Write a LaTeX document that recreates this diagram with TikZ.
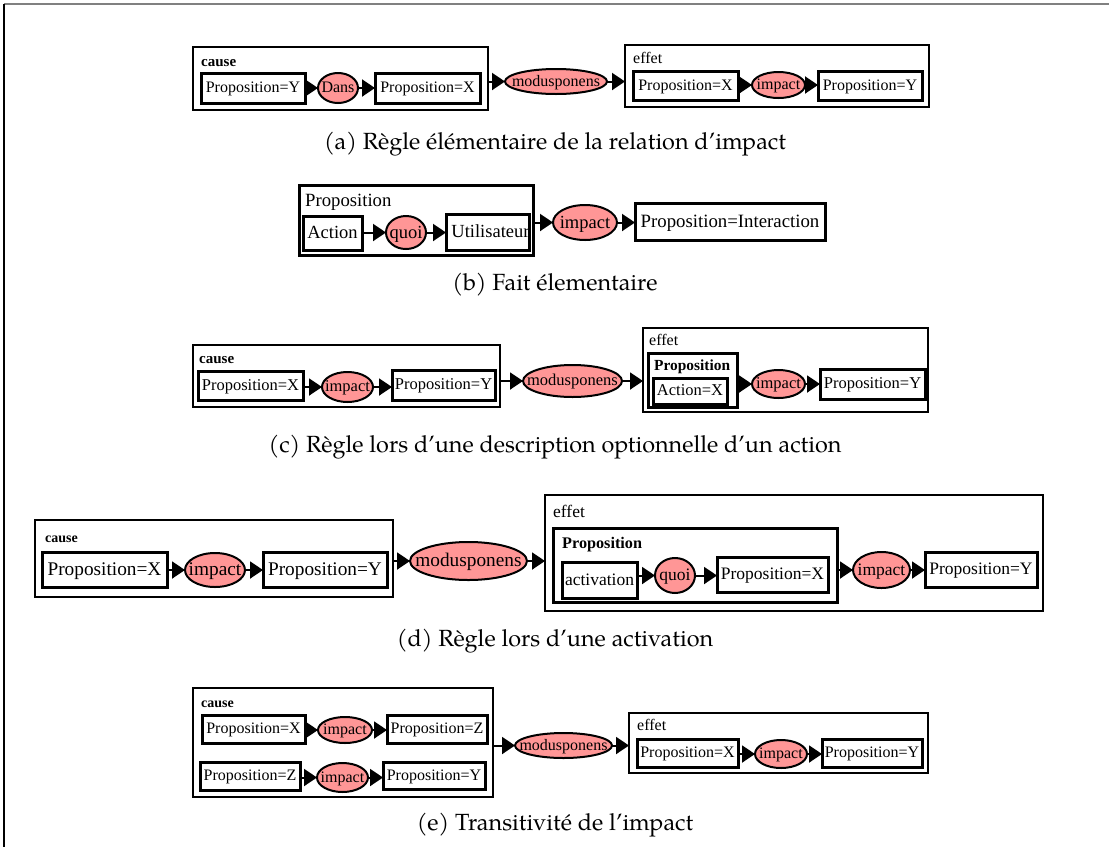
\documentclass[tikz,border=0pt]{standalone}
\usepackage{fontspec}
\setmainfont{Liberation Serif}
\newfontfamily\capfont{TeX Gyre Pagella}
\usetikzlibrary{shapes.geometric,arrows.meta}
\definecolor{relfill}{RGB}{255,150,150}
\newcommand\zt[1]{\raisebox{-.3em}[0pt][0pt]{\makebox[0pt]{#1}}}
\newcommand\fs[1]{\fontsize{#1}{#1}\selectfont}
% \bx{style}{name}{x1}{y1}{x2}{y2}{text}
\newcommand\bx[7]{\node[#1,minimum width={#5pt-#3pt},minimum height={#6pt-#4pt}] (#2) at ({(#3+#5)/2},{(#4+#6)/2}) {\zt{#7}};}
\tikzset{
  prop/.style={draw, line width=3pt, fill=white, inner sep=0pt, outer sep=0pt},
  rel/.style={ellipse, draw, line width=2pt, fill=relfill, inner sep=0pt, outer sep=0pt},
  grp/.style={draw, line width=2pt, inner sep=0pt, outer sep=0pt},
  igrp/.style={draw, line width=3pt, inner sep=0pt, outer sep=0pt},
  lab/.style={anchor=base west, inner sep=0pt},
  arr/.style={line width=2pt, -{Triangle[length=13pt,width=17pt]}},
  captxt/.style={font=\capfont\fontsize{23.4}{26}\selectfont, anchor=base, inner sep=0pt}
}
\begin{document}
\begin{tikzpicture}[x=1pt,y=-1pt]
\useasboundingbox (0,0) rectangle (1109,847);
\draw[gray, line width=1.5pt] (4,4) -- (1109,4);
\draw[black, line width=1.5pt] (4,4) -- (4,847);

% ---------------- (a)
\begin{scope}[every node/.append style={font=\fs{16}}]
\bx{grp}{causeA}{193}{47}{488}{110}{}
\node[lab,font=\bfseries\fs{15}] (lcA) at (201,66) {cause};
\bx{prop}{a1}{201}{73}{305}{103}{Proposition=Y}
\bx{rel}{a2}{318}{73}{358}{103}{Dans}
\bx{prop}{a3}{375}{73}{480}{103}{Proposition=X}
\bx{rel}{a4}{505}{69}{607}{94}{modusponens}
\bx{grp}{effetA}{625}{45}{929}{107}{}
\node[lab,font=\fs{16}] (leA) at (633,63) {effet};
\bx{prop}{a5}{633}{71}{738}{100}{Proposition=X}
\bx{rel}{a6}{752}{72}{805}{98}{impact}
\bx{prop}{a7}{818}{71}{922}{100}{Proposition=Y}
\end{scope}
\draw[arr] (a1.east |- a2.west) -- (a2.west);
\draw[arr] (a2.east) -- (a3.west |- a2.east);
\draw[arr] (causeA.east |- a4.west) -- (a4.west);
\draw[arr] (a4.east) -- (effetA.west |- a4.east);
\draw[arr] (a5.east |- a6.west) -- (a6.west);
\draw[arr] (a6.east) -- (a7.west |- a6.east);
\node[captxt] (capA) at (555,149) {(a) Règle élémentaire de la relation d’impact};

% ---------------- (b)
\begin{scope}[every node/.append style={font=\fs{18.5}}]
\bx{igrp}{propB}{299}{185}{533}{255}{}
\node[lab,font=\fs{18.7}] (lpB) at (305,206) {Proposition};
\bx{prop}{b1}{303}{216}{362}{250}{Action}
\bx{rel}{b2}{386}{216}{426}{249}{quoi}
\bx{prop}{b3}{446}{214}{529}{250}{\hspace*{6pt}Utilisateur}
\bx{rel}{b4}{553}{205}{617}{240}{impact}
\bx{prop}{b5}{635}{203}{825}{240}{\fs{18.8}Proposition=Interaction}
\end{scope}
\draw[arr] (b1.east |- b2.west) -- (b2.west);
\draw[arr] (b2.east) -- (b3.west |- b2.east);
\draw[arr] (propB.east |- b4.west) -- (b4.west);
\draw[arr] (b4.east) -- (b5.west |- b4.east);
\node[captxt] (capB) at (555,290) {(b) Fait élementaire};

% ---------------- (c)
\begin{scope}[every node/.append style={font=\fs{16.5}}]
\bx{grp}{causeC}{193}{345}{500}{407}{}
\node[lab,font=\bfseries\fs{15}] (lcC) at (199,363) {cause};
\bx{prop}{c1}{198}{371}{303}{400}{Proposition=X}
\bx{rel}{c2}{322}{372}{373}{402}{impact}
\bx{prop}{c3}{392}{370}{495}{400}{Proposition=Y}
\bx{rel}{c4}{523}{365}{622}{397}{modusponens}
\bx{grp}{effetC}{643}{328}{928}{412}{}
\node[lab,font=\fs{16}] (leC) at (649,345) {effet};
\bx{igrp}{propC}{648}{353}{737}{407}{}
\node[lab,font=\bfseries\fs{15.4}] (lpC) at (654,370) {Proposition};
\bx{prop}{c5}{653}{378}{727}{404}{Action=X}
\bx{rel}{c6}{752}{370}{805}{398}{impact}
\bx{prop}{c7}{820}{369}{925}{399}{Proposition=Y}
\end{scope}
\draw[arr] (c1.east |- c2.west) -- (c2.west);
\draw[arr] (c2.east) -- (c3.west |- c2.east);
\draw[arr] (causeC.east |- c4.west) -- (c4.west);
\draw[arr] (c4.east) -- (effetC.west |- c4.east);
\draw[arr] (propC.east |- c6.west) -- (c6.west);
\draw[arr] (c6.east) -- (c7.west |- c6.east);
\node[captxt] (capC) at (555,452) {(c) Règle lors d’une description optionnelle d’un action};

% ---------------- (d)
\begin{scope}[every node/.append style={font=\fs{19.3}}]
\bx{grp}{causeD}{35}{520}{393}{597}{}
\node[lab,font=\bfseries\fs{14}] (lcD) at (45,542) {cause};
\bx{prop}{d1}{42}{552}{167}{587}{Proposition=X}
\bx{rel}{d2}{185}{553}{245}{587}{impact}
\bx{prop}{d3}{263}{552}{387}{587}{Proposition=Y}
\bx{rel}{d4}{410}{542}{527}{580}{modusponens}
\end{scope}
\begin{scope}[every node/.append style={font=\fs{17.5}}]
\bx{grp}{effetD}{545}{495}{1043}{611}{}
\node[lab,font=\fs{17.5}] (leD) at (553,517) {effet};
\bx{igrp}{propD}{553}{528}{837}{602}{}
\node[lab,font=\bfseries\fs{16.2}] (lpD) at (562,548) {Proposition};
\bx{prop}{d5}{562}{562}{637}{598}{activation}
\bx{rel}{d6}{655}{558}{695}{593}{quoi}
\bx{prop}{d7}{717}{557}{828}{592}{Proposition=X}
\bx{rel}{d8}{853}{552}{910}{588}{impact}
\bx{prop}{d9}{925}{552}{1037}{587}{Proposition=Y}
\end{scope}
\draw[arr] (d1.east |- d2.west) -- (d2.west);
\draw[arr] (d2.east) -- (d3.west |- d2.east);
\draw[arr] (causeD.east |- d4.west) -- (d4.west);
\draw[arr] (d4.east) -- (effetD.west |- d4.east);
\draw[arr] (d5.east |- d6.west) -- (d6.west);
\draw[arr] (d6.east) -- (d7.west |- d6.east);
\draw[arr] (propD.east |- d8.west) -- (d8.west);
\draw[arr] (d8.east) -- (d9.west |- d8.east);
\node[captxt] (capD) at (555,646) {(d) Règle lors d’une activation};

% ---------------- (e)
\begin{scope}[every node/.append style={font=\fs{16}}]
\bx{grp}{causeE}{193}{688}{493}{797}{}
\node[lab,font=\bfseries\fs{14}] (lcE) at (201,707) {cause};
\bx{prop}{e1}{202}{715}{305}{743}{Proposition=X}
\bx{rel}{e2}{318}{717}{372}{743}{impact}
\bx{prop}{e3}{387}{715}{487}{743}{Proposition=Z}
\bx{prop}{e4}{200}{762}{300}{790}{Proposition=Z}
\bx{rel}{e5}{317}{763}{368}{792}{impact}
\bx{prop}{e6}{383}{762}{485}{789}{Proposition=Y}
\bx{rel}{e7}{515}{733}{612}{758}{modusponens}
\bx{grp}{effetE}{629}{713}{928}{773}{}
\node[lab,font=\fs{16}] (leE) at (637,730) {effet};
\bx{prop}{e8}{637}{739}{738}{767}{Proposition=X}
\bx{rel}{e9}{755}{740}{807}{768}{impact}
\bx{prop}{e10}{822}{739}{922}{767}{Proposition=Y}
\end{scope}
\draw[arr] (e1.east |- e2.west) -- (e2.west);
\draw[arr] (e2.east) -- (e3.west |- e2.east);
\draw[arr] (e4.east |- e5.west) -- (e5.west);
\draw[arr] (e5.east) -- (e6.west |- e5.east);
\draw[arr] (causeE.east |- e7.west) -- (e7.west);
\draw[arr] (e7.east) -- (effetE.west |- e7.east);
\draw[arr] (e8.east |- e9.west) -- (e9.west);
\draw[arr] (e9.east) -- (e10.west |- e9.east);
\node[captxt] (capE) at (555,830) {(e) Transitivité de l’impact};
\end{tikzpicture}
\end{document}
